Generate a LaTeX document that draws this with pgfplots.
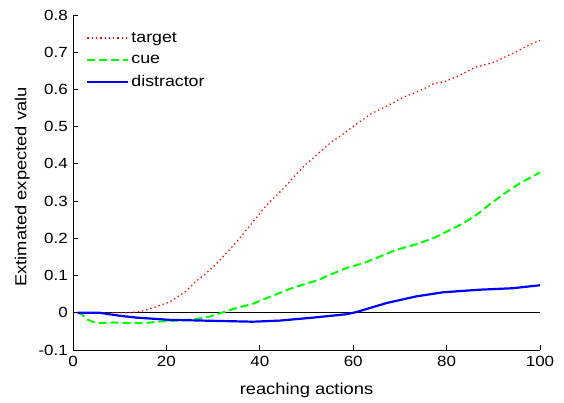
\documentclass[border=0pt]{standalone}
\usepackage{fontspec}
\setmainfont{Liberation Sans}[FakeStretch=1.15]
\usepackage{pgfplots}
\pgfplotsset{compat=1.18}
\begin{document}
\begin{tikzpicture}
\useasboundingbox (-73bp,-53bp) rectangle (491bp,350bp);
\begin{axis}[
  at={(0,0)}, anchor=south west,
  scale only axis, width=467bp, height=335bp,
  xmin=0, xmax=100, ymin=-0.1, ymax=0.8,
  axis lines*=left,
  axis line style={line width=0.8bp, black},
  tick align=inside, major tick length=5bp,
  tick style={line width=0.8bp, black},
  xtick={0,20,40,60,80,100},
  ytick={-0.1,0,0.1,0.2,0.3,0.4,0.5,0.6,0.7,0.8},
  /pgf/number format/assume math mode=true,
  scaled y ticks=false,
  yticklabel style={/pgf/number format/fixed, /pgf/number format/precision=1, font=\fontsize{14.8}{16}\selectfont, inner sep=0pt, xshift=-5bp},
  xticklabel style={font=\fontsize{14.8}{16}\selectfont, inner sep=0pt, yshift=-6bp},
  xlabel={reaching actions},
  ylabel={Extimated expected valu},
  xlabel style={at={(axis description cs:0.5,-0.134)}, anchor=base, font=\fontsize{16}{18}\selectfont, inner sep=0pt},
  ylabel style={at={(axis description cs:-0.0921,0.188)}, anchor=south west, rotate=0, font=\fontsize{16}{18}\selectfont, inner sep=0pt},
  legend style={at={(axis description cs:0.028,0.952)}, anchor=north west, draw=none, fill=none,
    font=\fontsize{15.5}{18}\selectfont, inner sep=0pt, row sep=9bp,
    nodes={inner sep=1bp},
    /tikz/every odd column/.style={column sep=1bp}},
  legend cell align=left,
  legend image code/.code={\draw[#1] (0bp,0bp) -- (41bp,0bp);},
]
\addplot[black, line width=0.6bp, forget plot] coordinates {(0,0) (100,0)};
\addplot[red, line width=1.3bp, dash pattern=on 1.3bp off 3bp] coordinates {
(1,0) (5,0) (10,0) (12,0.0) (14.3,0.003) (17.5,0.015) (20.7,0.029) (22.8,0.046) (24.1,0.057)
(26.3,0.084) (28.4,0.105) (30.6,0.13) (32.5,0.156) (34.5,0.183) (36.4,0.211) (38.2,0.239)
(40,0.267) (41.8,0.294) (43.8,0.318) (45.8,0.344) (47.7,0.371) (49.8,0.398) (51.9,0.421)
(53.9,0.443) (55.5,0.460) (57.5,0.477) (59.6,0.497) (61.8,0.517) (63.9,0.535) (66.3,0.55)
(68.5,0.564) (70.7,0.579) (72.8,0.589) (75.2,0.602) (77.3,0.616) (79.6,0.621) (81.7,0.632)
(83.9,0.645) (86.2,0.66) (88.5,0.667) (90.7,0.676) (92.8,0.689) (95.2,0.703) (97.4,0.718)
(99.6,0.73) (100,0.731)};
\addlegendentry{target}
\addplot[green, line width=2bp, dash pattern=on 8bp off 4bp] coordinates {
(1,0) (2,-0.005) (3,-0.018) (5,-0.028) (8.6,-0.026) (12.1,-0.028) (15,-0.028) (18.2,-0.024)
(22.1,-0.021) (26.4,-0.017) (29.3,-0.01) (31.8,0) (35,0.013) (38.5,0.024) (40,0.032)
(43.6,0.05) (46.4,0.064) (49.6,0.077) (52.5,0.088) (55,0.102) (58.5,0.12) (62.1,0.133)
(65.7,0.151) (69.2,0.169) (73.5,0.184) (77.1,0.2) (80,0.218) (83.5,0.24) (86.4,0.263)
(89.2,0.291) (92.1,0.318) (95.7,0.348) (100,0.377)};
\addlegendentry{cue}
\addplot[blue, line width=2.2bp] coordinates {
(1,0) (5.7,0) (10,-0.008) (13.6,-0.013) (20.7,-0.019) (27.8,-0.021) (38.5,-0.024)
(44.3,-0.021) (51.4,-0.013) (58.5,-0.004) (60.7,0.002) (67.1,0.026) (73.5,0.044)
(79.2,0.055) (87.1,0.062) (94.2,0.066) (100,0.074)};
\addlegendentry{distractor}
\end{axis}
\end{tikzpicture}
\end{document}
